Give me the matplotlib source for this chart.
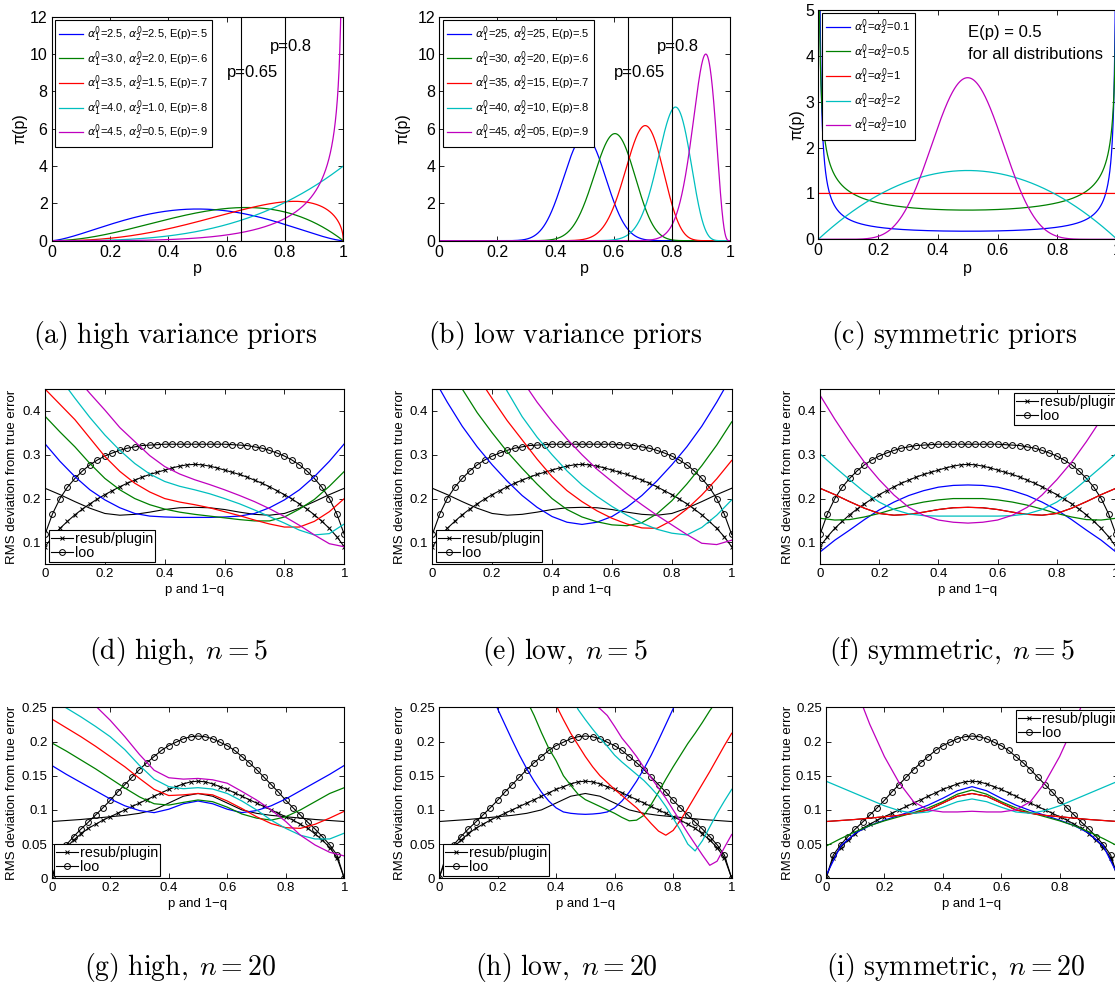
import numpy as np
import matplotlib
matplotlib.use("Agg")
import matplotlib.pyplot as plt
from math import lgamma

plt.rcParams['font.family'] = ['Liberation Sans', 'DejaVu Sans']

W, H = 1115, 984
fig = plt.figure(figsize=(W / 100, H / 100), dpi=100)

COLORS = ['#0000FF', '#008000', '#FF0000', '#00BFBF', '#BF00BF']

# ---------------- prior parameters (top row) ----------------
HIGH_A1 = [2.5, 3.0, 3.5, 4.0, 4.5]
HIGH_A2 = [2.5, 2.0, 1.5, 1.0, 0.5]
HIGH_LABELS = [r'$\alpha_1^0$=2.5, $\alpha_2^0$=2.5, E(p)=.5',
               r'$\alpha_1^0$=3.0, $\alpha_2^0$=2.0, E(p)=.6',
               r'$\alpha_1^0$=3.5, $\alpha_2^0$=1.5, E(p)=.7',
               r'$\alpha_1^0$=4.0, $\alpha_2^0$=1.0, E(p)=.8',
               r'$\alpha_1^0$=4.5, $\alpha_2^0$=0.5, E(p)=.9']
LOW_A1 = [25, 30, 35, 40, 45]
LOW_A2 = [25, 20, 15, 10, 5]
LOW_LABELS = [r'$\alpha_1^0$=25, $\alpha_2^0$=25, E(p)=.5',
              r'$\alpha_1^0$=30, $\alpha_2^0$=20, E(p)=.6',
              r'$\alpha_1^0$=35, $\alpha_2^0$=15, E(p)=.7',
              r'$\alpha_1^0$=40, $\alpha_2^0$=10, E(p)=.8',
              r'$\alpha_1^0$=45, $\alpha_2^0$=05, E(p)=.9']
SYM_A = [0.1, 0.5, 1, 2, 10]
SYM_LABELS = [r'$\alpha_1^0$=$\alpha_2^0$=0.1',
              r'$\alpha_1^0$=$\alpha_2^0$=0.5',
              r'$\alpha_1^0$=$\alpha_2^0$=1',
              r'$\alpha_1^0$=$\alpha_2^0$=2',
              r'$\alpha_1^0$=$\alpha_2^0$=10']
P_MARKS = [0.65, 0.8]

# ---------------- RMS curves ----------------
P21 = np.linspace(0, 1, 21)
P41 = np.linspace(0, 1, 41)

RESUB_N5 = [0.09, 0.113, 0.132, 0.148, 0.163, 0.176, 0.188, 0.199, 0.209, 0.218, 0.227,
            0.235, 0.242, 0.249, 0.255, 0.26, 0.265, 0.27, 0.274, 0.277, 0.278,
            0.277, 0.274, 0.27, 0.265, 0.26, 0.255, 0.249, 0.242, 0.235, 0.227,
            0.218, 0.209, 0.199, 0.188, 0.176, 0.163, 0.148, 0.132, 0.113, 0.09]
LOO_N5 = [0.118, 0.165, 0.2, 0.226, 0.246, 0.263, 0.277, 0.288, 0.297, 0.304, 0.31,
          0.315, 0.318, 0.321, 0.322, 0.323, 0.324, 0.324, 0.324, 0.324, 0.324,
          0.324, 0.324, 0.324, 0.324, 0.323, 0.322, 0.321, 0.318, 0.315, 0.31,
          0.304, 0.297, 0.288, 0.277, 0.263, 0.246, 0.226, 0.2, 0.165, 0.118]
UNIF_N5 = [0.2235, 0.209, 0.193, 0.178, 0.166, 0.162, 0.164, 0.169, 0.175, 0.179, 0.18,
           0.179, 0.175, 0.169, 0.164, 0.162, 0.166, 0.178, 0.193, 0.209, 0.2235]

RESUB_N20 = [0.0, 0.03, 0.045, 0.056, 0.065, 0.073, 0.079, 0.085, 0.09, 0.095, 0.1,
             0.105, 0.11, 0.115, 0.12, 0.125, 0.13, 0.134, 0.138, 0.141, 0.142,
             0.141, 0.138, 0.134, 0.13, 0.125, 0.12, 0.115, 0.11, 0.105, 0.1,
             0.095, 0.09, 0.085, 0.079, 0.073, 0.065, 0.056, 0.045, 0.03, 0.0]
LOO_N20 = [0.0, 0.034, 0.049, 0.061, 0.072, 0.082, 0.0925, 0.103, 0.114, 0.126, 0.137,
           0.148, 0.159, 0.169, 0.178, 0.187, 0.194, 0.199, 0.204, 0.207, 0.208,
           0.207, 0.204, 0.199, 0.194, 0.187, 0.178, 0.169, 0.159, 0.148, 0.137,
           0.126, 0.114, 0.103, 0.0925, 0.082, 0.072, 0.061, 0.049, 0.034, 0.0]
UNIF_N20 = [0.083, 0.0845, 0.086, 0.088, 0.09, 0.092, 0.095, 0.1, 0.11, 0.12, 0.124,
            0.12, 0.11, 0.1, 0.095, 0.092, 0.09, 0.088, 0.086, 0.0845, 0.083]

# high variance priors, n = 5  (blue, green, red, cyan, magenta)
HIGH_N5 = [
    [0.325, 0.285, 0.25, 0.22, 0.197, 0.179, 0.166, 0.16, 0.158, 0.157, 0.157,
     0.157, 0.158, 0.16, 0.166, 0.179, 0.197, 0.22, 0.25, 0.285, 0.325],
    [0.388, 0.352, 0.318, 0.28, 0.246, 0.22, 0.2, 0.186, 0.176, 0.169, 0.164,
     0.16, 0.156, 0.152, 0.149, 0.149, 0.158, 0.176, 0.198, 0.228, 0.262],
    [0.45, 0.415, 0.38, 0.338, 0.296, 0.262, 0.235, 0.215, 0.2, 0.192, 0.186,
     0.179, 0.17, 0.161, 0.151, 0.142, 0.135, 0.135, 0.148, 0.17, 0.2],
    [0.52, 0.475, 0.429, 0.385, 0.345, 0.31, 0.28, 0.256, 0.239, 0.228, 0.22,
     0.211, 0.2, 0.188, 0.174, 0.159, 0.144, 0.128, 0.117, 0.12, 0.142],
    [0.6, 0.54, 0.48, 0.44, 0.402, 0.362, 0.33, 0.298, 0.273, 0.256, 0.243,
     0.232, 0.22, 0.207, 0.193, 0.177, 0.159, 0.139, 0.117, 0.097, 0.09],
]
# low variance priors, n = 5
LOW_N5 = [
    [0.48, 0.42, 0.365, 0.318, 0.277, 0.24, 0.207, 0.18, 0.159, 0.146, 0.141,
     0.146, 0.159, 0.18, 0.207, 0.24, 0.277, 0.318, 0.365, 0.42, 0.48],
    [0.6, 0.52, 0.45, 0.396, 0.35, 0.307, 0.269, 0.233, 0.2, 0.175, 0.158,
     0.147, 0.14, 0.138, 0.145, 0.165, 0.195, 0.233, 0.275, 0.322, 0.375],
    [0.68, 0.61, 0.54, 0.48, 0.428, 0.378, 0.334, 0.29, 0.25, 0.218, 0.193,
     0.172, 0.155, 0.142, 0.133, 0.132, 0.15, 0.176, 0.208, 0.245, 0.287],
    [0.78, 0.71, 0.65, 0.59, 0.51, 0.445, 0.387, 0.34, 0.3, 0.263, 0.231,
     0.205, 0.182, 0.162, 0.144, 0.13, 0.121, 0.117, 0.134, 0.162, 0.197],
    [0.8, 0.75, 0.7, 0.64, 0.58, 0.52, 0.47, 0.42, 0.376, 0.336, 0.3,
     0.267, 0.239, 0.211, 0.186, 0.162, 0.14, 0.118, 0.098, 0.095, 0.105],
]
# symmetric priors, n = 5
SYM_N5 = [
    [0.078, 0.105, 0.128, 0.152, 0.174, 0.192, 0.207, 0.218, 0.226, 0.23, 0.231,
     0.23, 0.226, 0.218, 0.207, 0.192, 0.174, 0.152, 0.128, 0.105, 0.078],
    [0.155, 0.151, 0.152, 0.158, 0.166, 0.176, 0.185, 0.192, 0.197, 0.2, 0.2,
     0.2, 0.197, 0.192, 0.185, 0.176, 0.166, 0.158, 0.152, 0.151, 0.155],
    UNIF_N5,
    [0.302, 0.272, 0.243, 0.215, 0.192, 0.175, 0.165, 0.161, 0.16, 0.16, 0.16,
     0.16, 0.16, 0.161, 0.165, 0.175, 0.192, 0.215, 0.243, 0.272, 0.302],
    [0.436, 0.381, 0.33, 0.283, 0.243, 0.208, 0.18, 0.162, 0.151, 0.146, 0.144,
     0.146, 0.151, 0.162, 0.18, 0.208, 0.243, 0.283, 0.33, 0.381, 0.436],
]
# high variance priors, n = 20
HIGH_N20 = [
    [0.165, 0.152, 0.14, 0.128, 0.116, 0.106, 0.099, 0.096, 0.101, 0.109, 0.113,
     0.109, 0.101, 0.096, 0.099, 0.106, 0.116, 0.128, 0.14, 0.152, 0.165],
    [0.198, 0.186, 0.173, 0.16, 0.146, 0.132, 0.119, 0.109, 0.107, 0.111, 0.1145,
     0.112, 0.104, 0.094, 0.088, 0.085, 0.09, 0.1, 0.112, 0.124, 0.1325],
    [0.233, 0.22, 0.207, 0.193, 0.178, 0.163, 0.146, 0.13, 0.121, 0.122, 0.124,
     0.122, 0.113, 0.102, 0.09, 0.08, 0.074, 0.073, 0.079, 0.088, 0.098],
    [0.262, 0.249, 0.236, 0.222, 0.207, 0.188, 0.165, 0.145, 0.134, 0.131, 0.1325,
     0.1305, 0.124, 0.113, 0.1, 0.085, 0.073, 0.063, 0.0575, 0.0575, 0.066],
    [0.32, 0.3, 0.28, 0.252, 0.231, 0.207, 0.181, 0.158, 0.147, 0.145, 0.146,
     0.144, 0.139, 0.127, 0.1145, 0.1, 0.083, 0.063, 0.0487, 0.038, 0.0327],
]
# low variance priors, n = 20 (finer grid, P41)
LOW_N20 = [
    [0.49, 0.46, 0.43, 0.40, 0.37, 0.34, 0.31, 0.28, 0.248, 0.225, 0.202,
     0.18, 0.16, 0.142, 0.126, 0.113, 0.103, 0.097, 0.095, 0.094, 0.0935,
     0.094, 0.095, 0.097, 0.103, 0.113, 0.126, 0.142, 0.16, 0.18, 0.202,
     0.225, 0.248, 0.28, 0.31, 0.34, 0.37, 0.40, 0.43, 0.46, 0.49],
    [0.6, 0.58, 0.55, 0.52, 0.5, 0.47, 0.44, 0.41, 0.37, 0.335, 0.3,
     0.28, 0.26, 0.238, 0.213, 0.19, 0.172, 0.15, 0.136, 0.123, 0.115,
     0.11, 0.105, 0.1, 0.095, 0.089, 0.084, 0.085, 0.092, 0.108, 0.126,
     0.145, 0.163, 0.18, 0.197, 0.212, 0.228, 0.245, 0.26, 0.275, 0.29],
    [0.65, 0.63, 0.6, 0.58, 0.55, 0.52, 0.5, 0.47, 0.44, 0.41, 0.38,
     0.35, 0.33, 0.31, 0.29, 0.27, 0.253, 0.232, 0.212, 0.195, 0.178,
     0.163, 0.15, 0.14, 0.13, 0.121, 0.112, 0.103, 0.092, 0.08, 0.069,
     0.063, 0.07, 0.085, 0.102, 0.12, 0.138, 0.156, 0.175, 0.194, 0.212],
    [0.7, 0.68, 0.66, 0.64, 0.62, 0.6, 0.57, 0.55, 0.52, 0.49, 0.46,
     0.44, 0.41, 0.39, 0.36, 0.34, 0.31, 0.29, 0.27, 0.247, 0.232,
     0.218, 0.205, 0.193, 0.18, 0.17, 0.161, 0.152, 0.143, 0.132, 0.12,
     0.105, 0.088, 0.07, 0.05, 0.04, 0.055, 0.075, 0.095, 0.113, 0.13],
    [0.75, 0.73, 0.71, 0.69, 0.67, 0.65, 0.63, 0.61, 0.59, 0.57, 0.55,
     0.52, 0.5, 0.47, 0.44, 0.41, 0.38, 0.35, 0.32, 0.29, 0.262,
     0.255, 0.248, 0.238, 0.222, 0.205, 0.192, 0.178, 0.162, 0.147, 0.132,
     0.117, 0.1, 0.083, 0.066, 0.05, 0.034, 0.019, 0.025, 0.045, 0.064],
]
# symmetric priors, n = 20
SYM_N20 = [
    [0.004, 0.047, 0.066, 0.077, 0.085, 0.092, 0.099, 0.107, 0.117, 0.128, 0.134,
     0.128, 0.117, 0.107, 0.099, 0.092, 0.085, 0.077, 0.066, 0.047, 0.004],
    [0.047, 0.058, 0.068, 0.077, 0.084, 0.09, 0.096, 0.103, 0.112, 0.123, 0.129,
     0.123, 0.112, 0.103, 0.096, 0.09, 0.084, 0.077, 0.068, 0.058, 0.047],
    UNIF_N20,
    [0.142, 0.133, 0.124, 0.115, 0.106, 0.099, 0.095, 0.097, 0.104, 0.112, 0.116,
     0.112, 0.104, 0.097, 0.095, 0.099, 0.106, 0.115, 0.124, 0.133, 0.142],
    [0.4, 0.34, 0.28, 0.225, 0.178, 0.14, 0.112, 0.1, 0.097, 0.097, 0.098,
     0.097, 0.097, 0.1, 0.112, 0.14, 0.178, 0.225, 0.28, 0.34, 0.4],
]

# ---------------- helpers ----------------
def rect(l, t, r, b):
    return [l / W, 1 - b / H, (r - l) / W, (b - t) / H]


def fxy(x, y):
    return (x / W, 1 - y / H)


def beta_pdf(p, a, b):
    logb = lgamma(a) + lgamma(b) - lgamma(a + b)
    with np.errstate(divide='ignore', invalid='ignore'):
        t1 = np.zeros_like(p) if a == 1 else (a - 1) * np.log(p)
        t2 = np.zeros_like(p) if b == 1 else (b - 1) * np.log(1 - p)
        y = np.exp(t1 + t2 - logb)
    return np.nan_to_num(y, posinf=1e3)


def style_axes(ax, fs):
    ax.tick_params(direction='in', top=True, right=True, length=3.5, width=0.6,
                   labelsize=fs, pad=3)
    for s in ax.spines.values():
        s.set_linewidth(0.8)


def set_labels(ax, xl, yl, xlab_y, ylab_x, fs):
    pos = ax.get_position()
    ax.set_xlabel(xl, fontsize=fs, va='center')
    ax.xaxis.set_label_coords(pos.x0 + pos.width / 2, 1 - xlab_y / H, transform=fig.transFigure)
    ax.set_ylabel(yl, fontsize=fs, va='center', ha='center')
    ax.yaxis.set_label_coords(ylab_x / W, pos.y0 + pos.height / 2, transform=fig.transFigure)


def caption(x, y, s):
    fig.text(x / W, 1 - y / H, s, ha='center', va='center', fontsize=20,
             math_fontfamily='cm')


def legend(ax, corner, loc, fs, **kw):
    leg = ax.legend(loc=loc, bbox_to_anchor=fxy(*corner), bbox_transform=fig.transFigure,
                    borderaxespad=0, fontsize=fs, fancybox=False, framealpha=1,
                    edgecolor='k', **kw)
    leg.get_frame().set_linewidth(0.8)


# ---------------- top row: priors ----------------
p = np.linspace(0, 1, 2001)
TICKS01 = [0, 0.2, 0.4, 0.6, 0.8, 1]
TICKLAB01 = ['0', '0.2', '0.4', '0.6', '0.8', '1']

top_specs = [
    (rect(51.7, 16.7, 343.3, 240.7), HIGH_A1, HIGH_A2, HIGH_LABELS, 12, (55, 20), 20, True),
    (rect(439.3, 16.7, 730, 240.7), LOW_A1, LOW_A2, LOW_LABELS, 12, (443, 20), 403, True),
    (rect(818.3, 10, 1117, 239.3), SYM_A, SYM_A, SYM_LABELS, 5, (822, 13), 797, False),
]
for r, a1s, a2s, labs, ymax, lg, ylx, marks in top_specs:
    ax = fig.add_axes(r)
    for a1, a2, lab, c in zip(a1s, a2s, labs, COLORS):
        ax.plot(p, beta_pdf(p, a1, a2), color=c, lw=0.9, label=lab)
    if marks:
        for pm in P_MARKS:
            ax.axvline(pm, color='k', lw=0.8)
        ax.text(0.69, 9.0, 'p=0.65', ha='center', va='center', fontsize=12)
        ax.text(0.82, 10.4, 'p=0.8', ha='center', va='center', fontsize=12)
    else:
        ax.text(0.5, 4.5, 'E(p) = 0.5', ha='left', va='center', fontsize=12)
        ax.text(0.5, 4.02, 'for all distributions', ha='left', va='center', fontsize=12)
    ax.set_xlim(0, 1)
    ax.set_ylim(0, ymax)
    ax.set_xticks(TICKS01, TICKLAB01)
    ax.set_yticks(range(0, ymax + 1, 2 if ymax > 5 else 1))
    style_axes(ax, 11.5)
    set_labels(ax, 'p', 'π(p)', 268, ylx, 11.5)
    legend(ax, lg, 'upper left', 8, labelspacing=0.45, handlelength=2.1,
           handletextpad=0.4, borderpad=0.4)

caption(175, 335, r'$\mathrm{(a)\ high\ variance\ priors}$')
caption(565, 335, r'$\mathrm{(b)\ low\ variance\ priors}$')
caption(954, 335, r'$\mathrm{(c)\ symmetric\ priors}$')

# ---------------- RMS rows ----------------
def rms_panel(r, grid, curves, unif, resub, loo, ylim, yticks, yticklabels,
              leg_corner, leg_loc, ylab_x, xlab_y):
    ax = fig.add_axes(r)
    ax.plot(P21, unif, color='k', lw=0.8)
    ax.plot(P41, resub, color='k', lw=0.8, marker='x', ms=2.8, mew=0.7,
            label='resub/plugin')
    ax.plot(P41, loo, color='k', lw=0.8, marker='o', ms=4.2, mew=0.7, mfc='none',
            label='loo')
    for vals, c in zip(curves, COLORS):
        ax.plot(grid, vals, color=c, lw=0.9)
    ax.set_xlim(0, 1)
    ax.set_ylim(*ylim)
    ax.set_xticks(TICKS01, TICKLAB01)
    ax.set_yticks(yticks, yticklabels)
    style_axes(ax, 9.5)
    set_labels(ax, 'p and 1\u2212q', 'RMS deviation from true error', xlab_y, ylab_x, 9.5)
    legend(ax, leg_corner, leg_loc, 10.3, labelspacing=0.0, handlelength=1.55,
           handletextpad=0.1, borderpad=0.15)
    return ax


Y5 = (0.05, 0.45)
YT5 = [0.1, 0.2, 0.3, 0.4]
YL5 = ['0.1', '0.2', '0.3', '0.4']
Y20 = (0, 0.25)
YT20 = [0, 0.05, 0.1, 0.15, 0.2, 0.25]
YL20 = ['0', '0.05', '0.1', '0.15', '0.2', '0.25']

rms_panel(rect(45, 389, 344.3, 564.3), P21, HIGH_N5, UNIF_N5, RESUB_N5, LOO_N5, Y5, YT5, YL5,
          (49, 562), 'lower left', 12, 590)
rms_panel(rect(432.3, 389, 731.7, 564.3), P21, LOW_N5, UNIF_N5, RESUB_N5, LOO_N5, Y5, YT5, YL5,
          (436, 562), 'lower left', 400, 590)
rms_panel(rect(820, 389, 1116, 564.3), P21, SYM_N5, UNIF_N5, RESUB_N5, LOO_N5, Y5, YT5, YL5,
          (1014, 393), 'upper left', 788, 590)

rms_panel(rect(51.7, 707.3, 344.3, 878.3), P21, HIGH_N20, UNIF_N20, RESUB_N20, LOO_N20, Y20, YT20, YL20,
          (54, 876), 'lower left', 12, 904)
rms_panel(rect(439, 707.3, 731.7, 878.3), P41, LOW_N20, UNIF_N20, RESUB_N20, LOO_N20, Y20, YT20, YL20,
          (443, 876), 'lower left', 400, 904)
rms_panel(rect(826, 707.3, 1118, 878.3), P21, SYM_N20, UNIF_N20, RESUB_N20, LOO_N20, Y20, YT20, YL20,
          (1016, 710), 'upper left', 788, 904)

caption(179, 652, r'$\mathrm{(d)\ high,}\;n = 5$')
caption(565, 652, r'$\mathrm{(e)\ low,}\;n = 5$')
caption(952, 652, r'$\mathrm{(f)\ symmetric,}\;n = 5$')
caption(180, 967, r'$\mathrm{(g)\ high,}\;n = 20$')
caption(566, 967, r'$\mathrm{(h)\ low,}\;n = 20$')
caption(956, 967, r'$\mathrm{(i)\ symmetric,}\;n = 20$')

fig.savefig('out.png', dpi=100)
